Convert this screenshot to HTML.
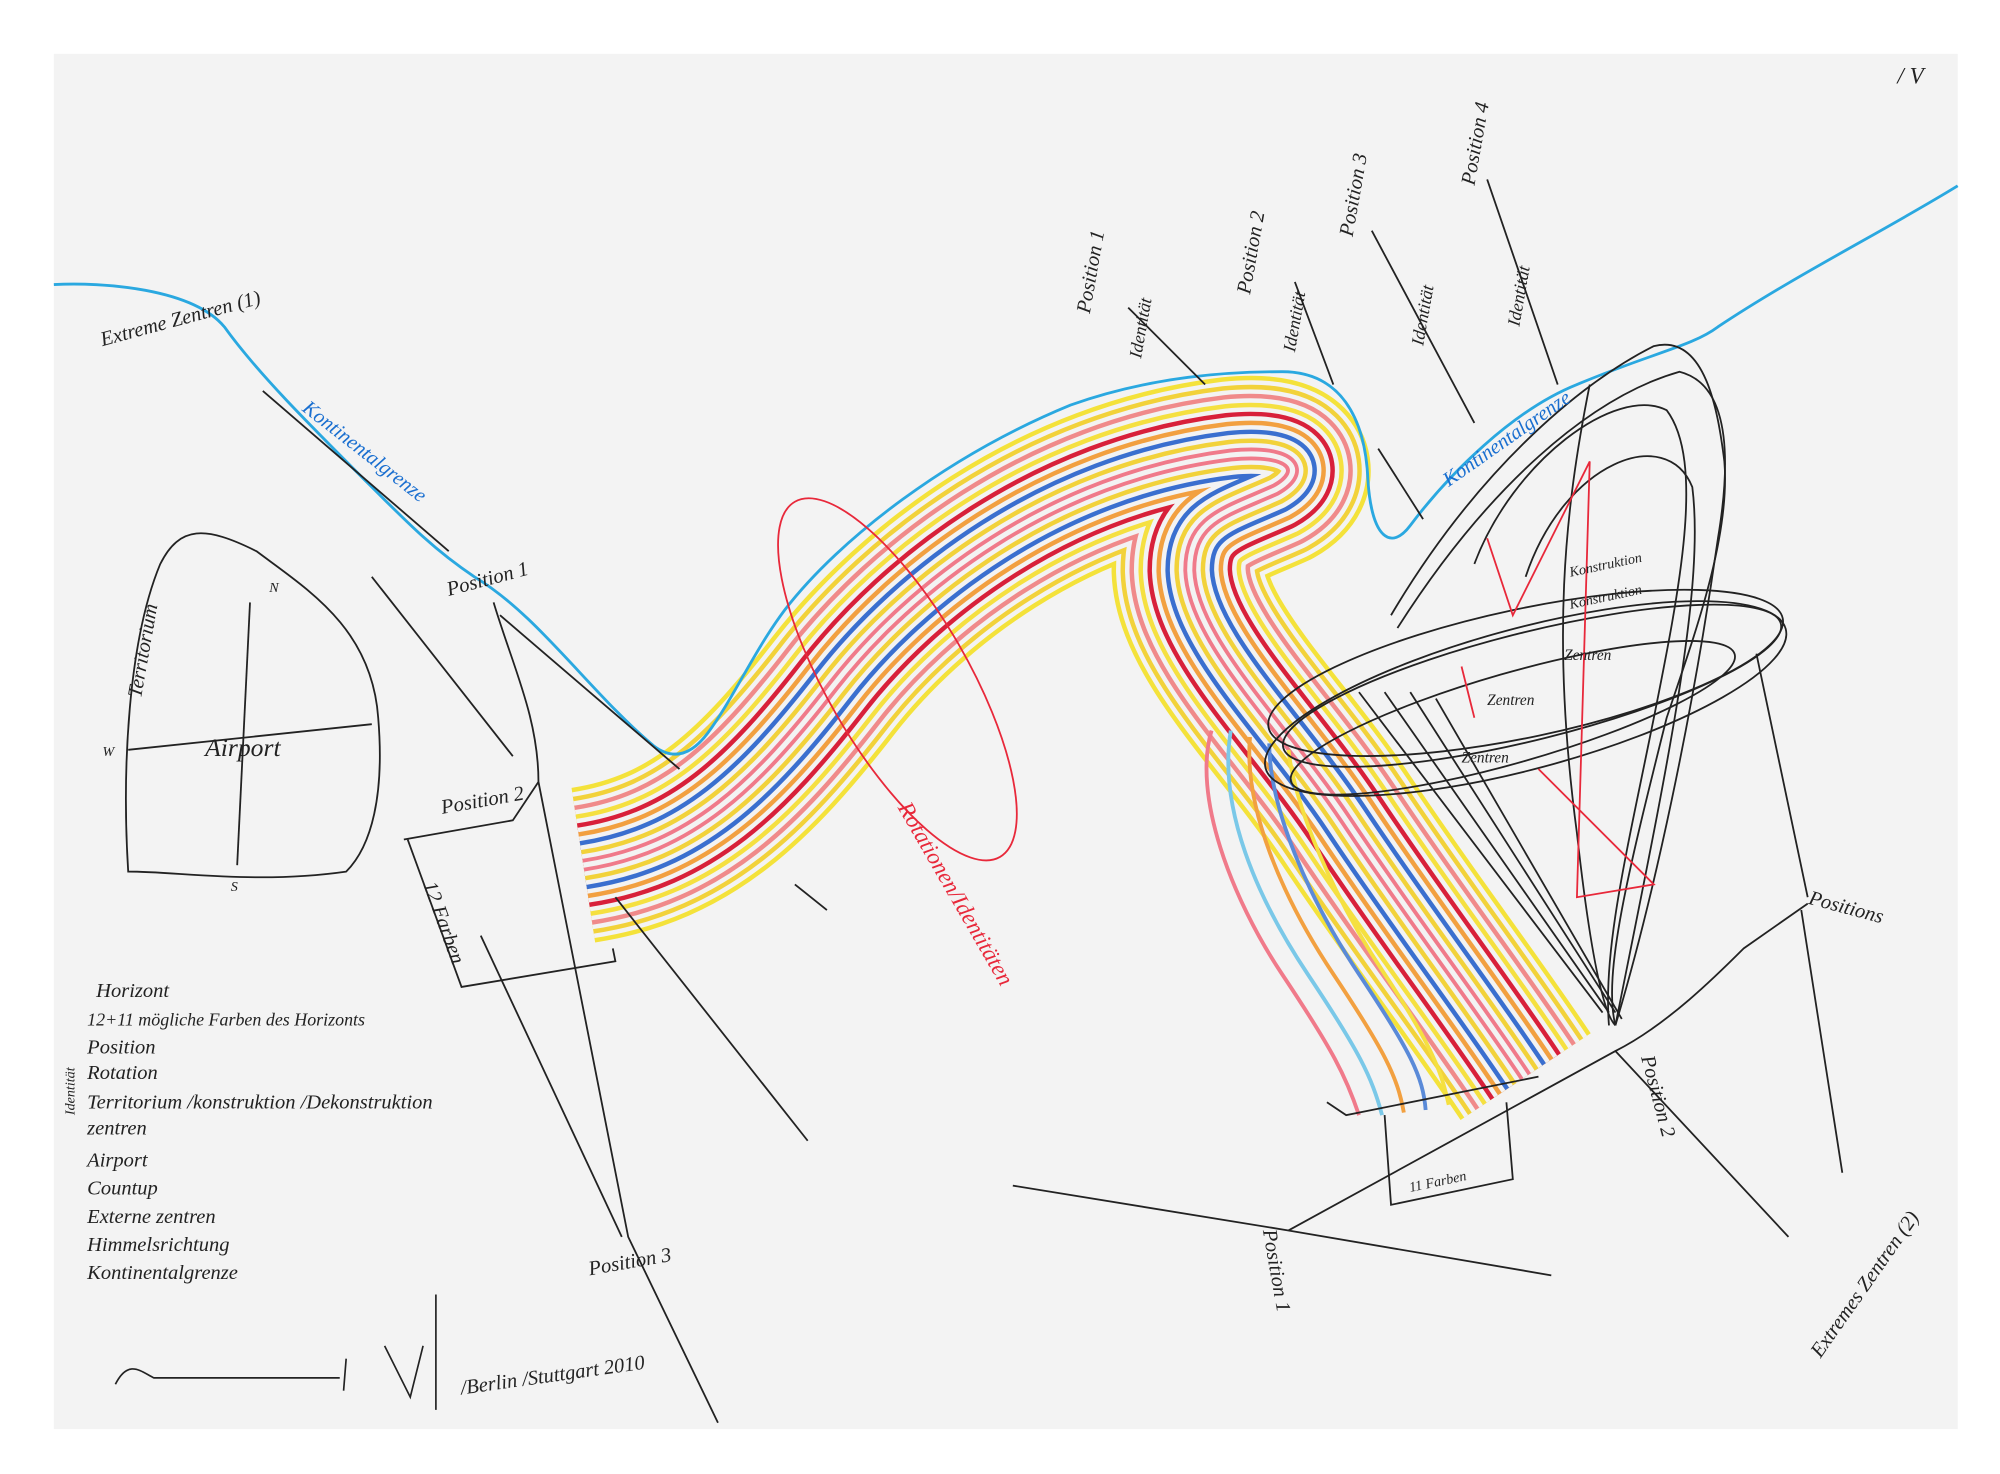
<!DOCTYPE html>
<html><head><meta charset="utf-8"><style>
html,body{margin:0;padding:0;background:#fff;}
svg{display:block}
text{font-family:"Liberation Serif",serif;font-style:italic;fill:#222}
</style></head><body>
<svg width="2000" height="1474" viewBox="0 0 1560 1150" preserveAspectRatio="none" xmlns="http://www.w3.org/2000/svg">
<rect x="0" y="0" width="1560" height="1150" fill="#fff"/>
<rect x="42" y="42" width="1485" height="1073" fill="#f3f3f3"/>
<defs>
<path id="c" d="M 455 675 C 540 662, 590 612, 650 535 S 820 372, 960 355 C 1010 350, 1020 368, 995 382 C 955 400, 928 405, 928 445 C 930 500, 1000 565, 1050 640 S 1150 780, 1190 840"/>
</defs>
<g fill="none" stroke-linecap="butt" stroke-linejoin="round">
<use href="#c" stroke="#f4e23a" stroke-width="122"/>
<use href="#c" stroke="#f3f3f3" stroke-width="115"/>
<use href="#c" stroke="#f2d23a" stroke-width="108"/>
<use href="#c" stroke="#f3f3f3" stroke-width="101"/>
<use href="#c" stroke="#f08a8a" stroke-width="94"/>
<use href="#c" stroke="#f3f3f3" stroke-width="87"/>
<use href="#c" stroke="#f5e040" stroke-width="80"/>
<use href="#c" stroke="#f3f3f3" stroke-width="73"/>
<use href="#c" stroke="#d8203a" stroke-width="66"/>
<use href="#c" stroke="#f3f3f3" stroke-width="59"/>
<use href="#c" stroke="#f2a040" stroke-width="52"/>
<use href="#c" stroke="#f3f3f3" stroke-width="45"/>
<use href="#c" stroke="#3a6fcf" stroke-width="38"/>
<use href="#c" stroke="#f3f3f3" stroke-width="31"/>
<use href="#c" stroke="#f2d23a" stroke-width="24"/>
<use href="#c" stroke="#f3f3f3" stroke-width="17"/>
<use href="#c" stroke="#f07a8a" stroke-width="10"/>
<use href="#c" stroke="#f3f3f3" stroke-width="4"/>
</g>
<g fill="none" stroke-width="3">
<path d="M945 570 C 930 620, 960 700, 1000 760 S 1050 840, 1060 870" stroke="#f07a8a"/>
<path d="M960 570 C 950 630, 980 700, 1020 760 S 1070 840, 1078 870" stroke="#7ac8e8"/>
<path d="M975 575 C 970 630, 1000 700, 1040 760 S 1090 840, 1095 868" stroke="#f2a040"/>
<path d="M990 580 C 990 630, 1020 700, 1060 760 S 1110 840, 1112 866" stroke="#5a8ad8"/>
<path d="M1005 585 C 1010 630, 1040 700, 1080 760 S 1125 840, 1130 862" stroke="#f5e040"/>
</g>
<path d="M42 222 C 80 220,150 225,175 255 C 200 290,240 330,290 380 C 320 410,340 430,370 450 C 420 480,460 540,510 582 C 526 594,540 588,552 572 C 572 545,588 508,612 476 C 655 420,740 355,835 316 C 900 293,960 290,1000 290 C 1045 290,1065 325,1067 375 C 1070 420,1085 430,1100 410 C 1130 370,1180 320,1230 300 C 1290 275,1320 270,1340 255 C 1400 215,1470 180,1527 145" fill="none" stroke="#2aa8e0" stroke-width="2.2"/>
<g fill="none" stroke="#222" stroke-width="1.4">
<path d="M205 305 L 350 430"/>
<path d="M290 450 L 400 590"/>
<path d="M390 480 L 530 600"/>
<path d="M385 470 C 400 520, 420 560, 420 610 L 490 965 L 560 1110"/>
<path d="M480 700 L 630 890"/>
<path d="M375 730 L 485 965"/>
<path d="M315 655 L 400 640 L 420 610"/>
<path d="M318 655 L 360 770 L 480 750 L 478 740"/>
<path d="M880 240 L 940 300"/><path d="M1010 220 L 1040 300"/>
<path d="M1070 180 L 1150 330"/><path d="M1160 140 L 1215 300"/>
<path d="M1075 350 L 1110 405"/>
<path d="M790 925 L 1005 960 L 1210 995"/>
<path d="M1005 960 L 1260 820 L 1395 965"/>
<path d="M1260 820 C 1300 800, 1340 760, 1360 740 L 1410 705"/>
<path d="M1405 710 L 1437 915"/>
<path d="M1370 510 L 1410 700"/>
<path d="M620 690 L 645 710"/>
<path d="M1085 480 C 1150 370,1230 300,1290 270 C 1330 260,1340 320,1345 360 C 1350 420,1320 500,1300 560 C 1270 680,1250 760,1260 800" />
<path d="M1090 490 C 1160 380,1240 310,1310 290 C 1350 300,1350 360,1340 420 C 1320 560,1290 700,1260 800" />
<path d="M1150 440 C 1180 360,1260 300,1300 320 C 1330 360,1310 460,1290 560 C 1270 660,1250 740,1255 800"/>
<path d="M1190 450 C 1220 360,1300 330,1320 380 C 1330 460,1300 600,1260 800"/>
<path d="M1240 300 C 1220 400,1210 500,1230 650 C 1240 740,1250 790,1260 800"/>
<ellipse cx="1190" cy="545" rx="210" ry="55" transform="rotate(-15 1190 545)"/>
<ellipse cx="1195" cy="535" rx="200" ry="42" transform="rotate(-14 1195 535)"/>
<ellipse cx="1190" cy="525" rx="205" ry="50" transform="rotate(-12 1190 525)"/>
<ellipse cx="1180" cy="560" rx="180" ry="35" transform="rotate(-16 1180 560)"/>
<path d="M1060 540 L 1250 790"/><path d="M1080 540 L 1255 790"/><path d="M1100 540 L 1260 790"/><path d="M1120 545 L 1265 795"/>
<path d="M1200 840 L 1050 870 L 1035 860"/>
<path d="M1080 870 L 1085 940 L 1180 920 L 1175 860"/>
<path d="M100 680 C 95 600, 100 500, 125 440 C 140 410, 160 410, 200 430 C 240 460, 290 490, 295 560 C 300 620, 290 660, 270 680 C 200 690, 140 680, 100 680 Z"/>
<path d="M100 585 L 290 565"/><path d="M195 470 L 185 675"/>
</g>
<g fill="none" stroke="#e8283a" stroke-width="1.4">
<ellipse cx="700" cy="530" rx="160" ry="55" transform="rotate(60 700 530)"/>
<path d="M1160 420 L 1180 480 L 1240 360 L 1230 700 L 1290 690 L 1200 600"/>
<path d="M1140 520 L 1150 560"/>
</g>
<g font-size="16">
<text x="80" y="270" transform="rotate(-15 80 270)">Extreme Zentren (1)</text>
<text x="235" y="320" transform="rotate(38 235 320)" style="fill:#1a6fd0">Kontinentalgrenze</text>
<text x="1130" y="380" transform="rotate(-35 1130 380)" style="fill:#1a6fd0">Kontinentalgrenze</text>
<text x="110" y="545" transform="rotate(-80 110 545)">Territorium</text>
<text x="160" y="590" font-size="20">Airport</text>
<text x="80" y="590" font-size="11">W</text><text x="210" y="462" font-size="11">N</text><text x="180" y="695" font-size="11">S</text>
<text x="350" y="465" transform="rotate(-15 350 465)">Position 1</text>
<text x="345" y="635" transform="rotate(-10 345 635)">Position 2</text>
<text x="460" y="995" transform="rotate(-10 460 995)">Position 3</text>
<text x="330" y="690" transform="rotate(70 330 690)">12 Farben</text>
<text x="1410" y="705" transform="rotate(15 1410 705)">Positions</text>
<text x="1280" y="825" transform="rotate(75 1280 825)">Position 2</text>
<text x="985" y="960" transform="rotate(80 985 960)">Position 1</text>
<text x="1420" y="1060" transform="rotate(-55 1420 1060)">Extremes Zentren (2)</text>
<text x="1100" y="930" font-size="11" transform="rotate(-12 1100 930)">11 Farben</text>
<text x="850" y="245" transform="rotate(-80 850 245)">Position 1</text>
<text x="975" y="230" transform="rotate(-80 975 230)">Position 2</text>
<text x="1055" y="185" transform="rotate(-80 1055 185)">Position 3</text>
<text x="1150" y="145" transform="rotate(-80 1150 145)">Position 4</text>
<text x="890" y="280" transform="rotate(-80 890 280)" font-size="14">Identität</text>
<text x="1010" y="275" transform="rotate(-80 1010 275)" font-size="14">Identität</text>
<text x="1110" y="270" transform="rotate(-80 1110 270)" font-size="14">Identität</text>
<text x="1185" y="255" transform="rotate(-80 1185 255)" font-size="14">Identität</text>
<text x="700" y="630" transform="rotate(60 700 630)" font-size="18" style="fill:#e8283a">Rotationen/Identitäten</text>
<text x="1480" y="65" font-size="18">/ V</text>
<text x="75" y="778">Horizont</text>
<text x="68" y="800" font-size="14">12+11 mögliche Farben des Horizonts</text>
<text x="68" y="822">Position</text>
<text x="68" y="842">Rotation</text>
<text x="68" y="865">Territorium /konstruktion /Dekonstruktion</text>
<text x="68" y="885">zentren</text>
<text x="68" y="910">Airport</text>
<text x="68" y="932">Countup</text>
<text x="68" y="954">Externe zentren</text>
<text x="68" y="976">Himmelsrichtung</text>
<text x="68" y="998">Kontinentalgrenze</text>
<text x="58" y="870" transform="rotate(-90 58 870)" font-size="11">Identität</text>
<text x="360" y="1088" transform="rotate(-8 360 1088)">/Berlin /Stuttgart 2010</text>
<text x="1220" y="515" font-size="12">Zentren</text><text x="1160" y="550" font-size="12">Zentren</text><text x="1140" y="595" font-size="12">Zentren</text>
<text x="1225" y="450" font-size="11" transform="rotate(-12 1225 450)">Konstruktion</text>
<text x="1225" y="475" font-size="11" transform="rotate(-12 1225 475)">Konstruktion</text>
</g>
<path d="M90 1080 C 100 1060,110 1070,120 1075 L 265 1075 M 270 1060 L 268 1085 M 300 1050 L 320 1090 L 330 1050 M 340 1010 L 340 1100" fill="none" stroke="#222" stroke-width="1.3"/>
</svg>
</body></html>
